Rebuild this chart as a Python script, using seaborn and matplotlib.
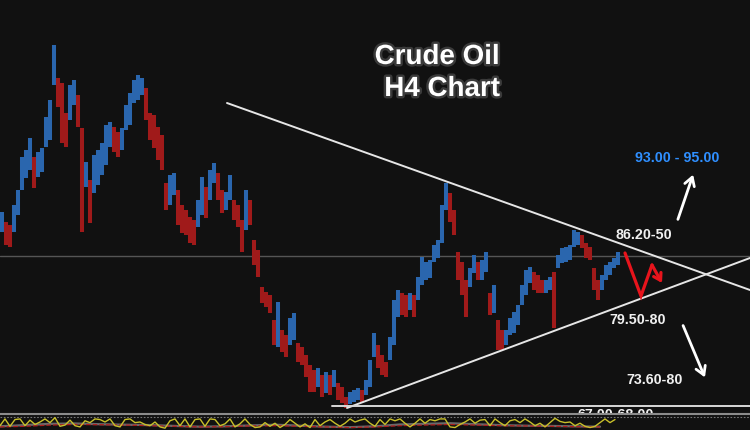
import numpy as np
import pandas as pd
import matplotlib
matplotlib.use("Agg")
import matplotlib.pyplot as plt
import matplotlib.patheffects as pe
from matplotlib.lines import Line2D
import seaborn as sns

# ---------------- data ----------------
highs = [89.43, 88.33, 88.00, 90.20, 91.85, 95.48, 96.25, 97.57, 95.48, 96.03,
         96.47, 99.88, 101.75, 107.80, 104.17, 103.62, 100.32, 103.40, 103.95, 102.30,
         98.67, 94.93, 92.95, 95.70, 96.25, 97.02, 99.00, 99.33, 98.78, 98.23,
         98.67, 101.20, 102.52, 103.95, 104.50, 104.17, 103.07, 100.32, 100.10, 98.78,
         97.90, 92.62, 93.50, 93.72, 91.85, 90.20, 89.65, 88.88, 88.55, 90.75,
         93.28, 92.18, 94.05, 94.82, 93.72, 91.85, 91.63, 93.50, 90.75, 90.20,
         88.55, 91.85, 90.75, 86.35, 85.25, 81.18, 80.63, 80.30, 77.55, 79.53,
         76.45, 75.90, 77.77, 78.32, 75.02, 74.58, 73.70, 72.60, 72.05, 72.27,
         71.50, 71.83, 71.50, 72.05, 70.62, 70.18, 69.08, 69.63, 69.85, 70.07,
         69.85, 70.95, 73.15, 76.12, 74.80, 73.70, 72.93, 75.68, 79.75, 80.85,
         80.52, 80.30, 80.52, 80.30, 82.28, 84.48, 83.93, 84.15, 85.80, 86.35,
         90.20, 92.62, 91.52, 89.65, 85.03, 83.93, 81.95, 83.27, 84.70, 83.93,
         84.15, 85.03, 80.52, 81.40, 77.55, 76.45, 76.45, 77.77, 78.43, 79.20,
         81.40, 83.05, 83.38, 82.83, 82.50, 81.95, 81.95, 82.28, 82.83, 84.70,
         85.47, 85.58, 85.80, 87.45, 87.23, 86.90, 86.02, 85.58, 83.27, 81.95,
         82.50, 83.60, 83.93, 84.37, 85.03]
lows = [87.23, 85.80, 85.58, 87.23, 89.10, 91.85, 93.17, 94.05, 92.07, 93.28,
        93.83, 96.58, 97.35, 103.40, 100.98, 97.02, 96.58, 99.55, 101.20, 98.78,
        87.23, 92.18, 88.22, 91.52, 92.40, 93.50, 94.60, 96.58, 96.03, 95.48,
        96.25, 98.45, 99.00, 101.42, 101.75, 102.30, 99.55, 97.35, 96.47, 95.15,
        94.05, 89.65, 90.20, 91.30, 88.00, 87.12, 86.90, 86.02, 85.80, 87.78,
        89.10, 88.77, 90.75, 92.62, 90.75, 89.32, 89.65, 90.75, 88.55, 87.78,
        85.03, 87.45, 88.00, 83.60, 82.28, 79.42, 78.98, 78.32, 74.80, 74.58,
        74.03, 73.48, 74.80, 75.35, 72.93, 72.60, 71.28, 69.63, 69.63, 70.18,
        69.08, 69.52, 69.30, 70.18, 68.75, 68.42, 67.87, 68.31, 68.53, 68.75,
        68.53, 69.30, 70.18, 73.48, 72.27, 71.50, 71.28, 73.15, 74.80, 77.88,
        78.10, 77.88, 78.65, 77.88, 79.75, 81.40, 81.95, 82.17, 83.93, 84.37,
        86.02, 89.65, 88.33, 86.90, 81.95, 80.30, 77.88, 81.18, 82.72, 81.95,
        81.95, 82.83, 78.10, 78.32, 74.25, 74.25, 74.80, 75.90, 76.12, 77.00,
        79.20, 80.30, 81.62, 80.85, 80.52, 80.52, 80.52, 80.85, 76.67, 83.27,
        83.82, 83.93, 84.15, 85.58, 85.80, 85.47, 84.37, 84.15, 80.85, 79.75,
        80.85, 81.95, 82.50, 83.27, 83.60]

# oscillator (stochastic-like) values, 0-100
osc_fast = [30, 85, 25, 80, 85, 30, 75, 40, 60, 85, 55, 95, 25, 35, 75, 30, 20, 70, 55, 85,
            80, 60, 85, 30, 20, 80, 85, 55, 60, 40, 30, 60, 20, 10, 70, 85, 30, 85, 20, 80,
            85, 25, 85, 80, 30, 45, 85, 20, 45, 85, 40, 15, 20, 55, 25, 50, 15, 40, 80, 50,
            20, 45, 15, 80, 30, 60, 80, 50, 25, 50, 85, 60, 75, 85, 50, 25, 80, 40, 85, 70,
            85, 50, 20, 50, 85, 50, 80, 70, 85, 85, 20, 15, 40, 60, 85, 50, 75, 80, 30, 85,
            55, 30, 70, 80, 55, 85, 60, 30, 50, 20, 55, 90, 65, 55, 60, 30, 50, 25, 15, 25,
            55, 85, 55, 80]
osc_signal = [20, 25, 35, 40, 38, 35, 30, 25, 20, 22, 28, 30, 25, 20, 15, 20, 30, 35, 40, 35,
              30, 28, 25, 22, 20]
osc_smooth = [25, 35, 45, 48, 42, 38, 35, 28, 22, 25, 32, 38, 30, 22, 18, 25, 40, 45, 50, 42,
              35, 30, 28, 25, 22]

# drawn lines (bar index, price)
upper_trend = ([56.25, 187.0], [101.42, 80.85])
lower_trend = ([86.25, 187.0], [67.87, 84.37])
support_line = ([82.5, 187.0], [68.09, 68.09])
price_line = 84.59
zigzag = ([155.75, 159.75, 162.5], [84.92, 80.19, 83.60])
zigzag_end = (165.0, 81.62)

# ---------------- styling ----------------
BG = "#111111"
BLUE = "#2a66ae"
RED = "#a01a1a"

sns.set_theme(style="dark")
plt.rcParams["font.family"] = ["Liberation Sans", "DejaVu Sans"]

fig = plt.figure(figsize=(7.5, 4.3), dpi=100, facecolor=BG)
ax = fig.add_axes([0, 17 / 430, 1, 413 / 430])
axo = fig.add_axes([0, 0, 1, 16 / 430], sharex=ax)
for a in (ax, axo):
    a.set_facecolor(BG)
    for s in a.spines.values():
        s.set_visible(False)
    a.tick_params(left=False, bottom=False, labelleft=False, labelbottom=False)
    a.grid(False)

df = pd.DataFrame({"high": highs, "low": lows})
df["idx"] = np.arange(len(df))
mid = (df["high"] + df["low"]) / 2
up = mid.diff().fillna(0) >= 0
colors = np.where(up, BLUE, RED)

ax.vlines(df["idx"], df["low"], df["high"], colors=colors, linewidth=2.9, zorder=3)

ax.set_xlim(-0.5, 187)
ax.set_ylim(67.32, 112.75)

# horizontal price line
ax.axhline(price_line, color="#555555", lw=1.0, zorder=2)
# trendlines
ax.plot(*upper_trend, color="#e6e6e6", lw=1.4, zorder=4)
ax.plot(*lower_trend, color="#e6e6e6", lw=1.4, zorder=4)
ax.plot(*support_line, color="#d8d8d8", lw=1.4, zorder=4)

# title text
stroke = [pe.withStroke(linewidth=3.5, foreground="#3a3a3a")]
ax.text(108.75, 106.48, "Crude Oil", color="white", fontsize=20, fontweight="bold",
        ha="center", va="center", path_effects=stroke, zorder=6)
ax.text(110.0, 102.96, "H4 Chart", color="white", fontsize=20, fontweight="bold",
        ha="center", va="center", path_effects=stroke, zorder=6)

# level labels
lab = dict(fontsize=10.3, fontweight="bold", ha="center", va="center", zorder=6)
ax.text(168.875, 95.37, "93.00 - 95.00", color="#2f8fff", **lab)
ax.text(160.5, 86.85, "86.20-50", color="#f0f0f0", **lab)
ax.text(159.0, 77.50, "79.50-80", color="#f0f0f0", **lab)
ax.text(163.25, 70.95, "73.60-80", color="#f0f0f0", **lab)
hidden = ax.text(153.5, 67.05, "67.00-68.00", color="#f0f0f0", **lab)
hidden.set_clip_box(ax.bbox)
hidden.set_clip_on(True)

# arrows
ax.annotate("", xy=(173.0, 93.83), xytext=(168.75, 88.33),
            arrowprops=dict(arrowstyle="->,head_length=0.5,head_width=0.3", color="white", lw=2.0),
            zorder=6)
ax.annotate("", xy=(176.0, 70.95), xytext=(170.0, 77.22),
            arrowprops=dict(arrowstyle="->,head_length=0.5,head_width=0.3", color="white", lw=2.0),
            zorder=6)
ax.plot(*zigzag, color="#e8141c", lw=2.3, solid_joinstyle="miter", zorder=6)
ax.annotate("", xy=zigzag_end, xytext=(zigzag[0][-1], zigzag[1][-1]),
            arrowprops=dict(arrowstyle="->,head_length=0.4,head_width=0.25", color="#e8141c",
                            lw=2.3, shrinkA=0, shrinkB=0),
            zorder=6)

# oscillator panel
osc = pd.DataFrame({"x": np.arange(len(osc_fast)) * 1.25 - 0.5, "v": osc_fast})
sig = pd.DataFrame({"x": np.arange(len(osc_signal)) * 6.25 - 0.5, "v": osc_signal})
smo = pd.DataFrame({"x": np.arange(len(osc_smooth)) * 6.25 - 0.5, "v": osc_smooth})
sns.lineplot(data=smo, x="x", y="v", ax=axo, color="#6a6a6a", lw=1.6, zorder=2)
sns.lineplot(data=sig, x="x", y="v", ax=axo, color="#b01c1c", lw=0.9, linestyle="--", zorder=3)
sns.lineplot(data=osc, x="x", y="v", ax=axo, color="#c8c02a", lw=1.0, zorder=4)
axo.axhline(100, color="#777777", lw=0.8, linestyle=(0, (1.5, 1.5)), zorder=1)
axo.set_ylim(-5, 125)
axo.set_xlim(-0.5, 187)
axo.set_xlabel("")
axo.set_ylabel("")

# panel separator
fig.add_artist(Line2D([0, 1], [1 - 413.5 / 430] * 2, color="#8c8c8c", lw=1.5,
                      transform=fig.transFigure))

fig.savefig("out.png", dpi=100, facecolor=BG)
